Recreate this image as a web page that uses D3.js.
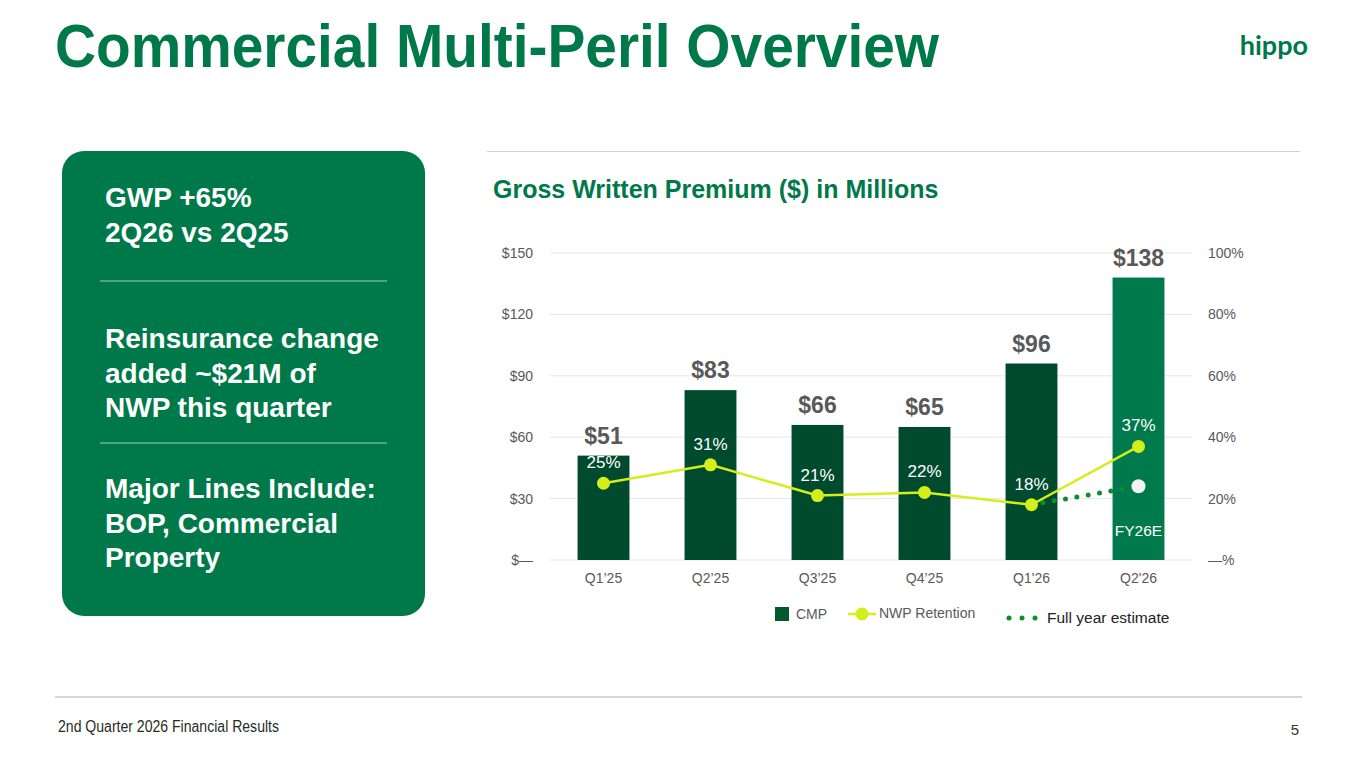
<!DOCTYPE html>
<html>
<head>
<meta charset="utf-8">
<script src="https://cdn.jsdelivr.net/npm/d3@7"></script>
<style>
  body { margin: 0; background: #fff; }
  svg { display: block; font-family: "Liberation Sans", Arial, sans-serif; }
</style>
</head>
<body>
<svg id="slide" width="1365" height="768"></svg>
<script>
const quarters = ["Q1\u201925", "Q2\u201925", "Q3\u201925", "Q4\u201925", "Q1'26", "Q2'26"];
const gwp = [51, 83, 66, 65, 96, 138];
const retention = [25, 31, 21, 22, 18, 37];
const estimateFrom = "Q1'26";
const estimateTo = "Q2'26";
const estimateValues = [18, 24];
const leftTicks = [0, 30, 60, 90, 120, 150];
const rightTicks = [0, 20, 40, 60, 80, 100];
const panelBlocks = [
  ["GWP +65%", "2Q26 vs 2Q25"],
  ["Reinsurance change", "added ~$21M of", "NWP this quarter"],
  ["Major Lines Include:", "BOP, Commercial", "Property"]
];

const green = "#00794a";
const darkBar = "#004a2e";
const lastBar = "#007a4c";
const lineColor = "#d4ee1b";
const dotColor = "#0b8e2e";
const grey = "#595959";

const svg = d3.select("#slide");

// header
svg.append("text")
  .attr("x", 55).attr("y", 67)
  .attr("font-size", 61).attr("font-weight", "bold")
  .attr("fill", green)
  .attr("textLength", 884).attr("lengthAdjust", "spacingAndGlyphs")
  .text("Commercial Multi-Peril Overview");

svg.append("text")
  .attr("x", 1308).attr("y", 55)
  .attr("text-anchor", "end")
  .attr("font-family", "Lato, sans-serif")
  .attr("font-size", 27).attr("font-weight", "bold")
  .attr("fill", green)
  .text("hippo");

// rules
svg.append("line").attr("x1", 487).attr("x2", 1300).attr("y1", 151.5).attr("y2", 151.5)
  .attr("stroke", "#d0d0d0").attr("stroke-width", 1);
svg.append("line").attr("x1", 55).attr("x2", 1302).attr("y1", 697).attr("y2", 697)
  .attr("stroke", "#d6d6d6").attr("stroke-width", 2);

// footer
svg.append("text")
  .attr("x", 58).attr("y", 732)
  .attr("font-size", 16).attr("fill", "#1f2d1f")
  .attr("textLength", 221).attr("lengthAdjust", "spacingAndGlyphs")
  .text("2nd Quarter 2026 Financial Results");
svg.append("text")
  .attr("x", 1299).attr("y", 735)
  .attr("text-anchor", "end")
  .attr("font-size", 15).attr("fill", "#333")
  .text("5");

// left panel
svg.append("rect")
  .attr("x", 62).attr("y", 151).attr("width", 363).attr("height", 465)
  .attr("rx", 22).attr("fill", green);

const blockTops = [207, 348, 498];
const panel = svg.append("g");
panelBlocks.forEach((lines, i) => {
  panel.selectAll(null)
    .data(lines)
    .enter()
    .append("text")
    .attr("x", 105)
    .attr("y", (_, j) => blockTops[i] + j * 34.5)
    .attr("font-size", 28).attr("font-weight", "bold")
    .attr("fill", "#fff")
    .text(d => d);
});
[281, 443].forEach(y => {
  panel.append("line").attr("x1", 100).attr("x2", 387).attr("y1", y).attr("y2", y)
    .attr("stroke", "#9fd0b6").attr("stroke-width", 1);
});

// chart
svg.append("text")
  .attr("x", 493).attr("y", 198)
  .attr("font-size", 25).attr("font-weight", "bold")
  .attr("fill", green)
  .text("Gross Written Premium ($) in Millions");

const x = d3.scaleBand()
  .domain(quarters)
  .range([550, 1192])
  .paddingInner(0.515)
  .paddingOuter(0.2575);

const yLeft = d3.scaleLinear().domain([0, 150]).range([560, 253]);
const yRight = d3.scaleLinear().domain([0, 100]).range([560, 253]);

svg.append("g")
  .selectAll("line")
  .data(leftTicks)
  .enter()
  .append("line")
  .attr("x1", 550).attr("x2", 1192)
  .attr("y1", d => yLeft(d)).attr("y2", d => yLeft(d))
  .attr("stroke", "#e6e6e6").attr("stroke-width", 1);

const leftAxis = svg.append("g")
  .attr("transform", "translate(550,0)")
  .call(d3.axisLeft(yLeft).tickValues(leftTicks).tickSize(0).tickPadding(17)
    .tickFormat(d => d === 0 ? "$\u2014" : "$" + d));

const rightAxis = svg.append("g")
  .attr("transform", "translate(1192,0)")
  .call(d3.axisRight(yRight).tickValues(rightTicks).tickSize(0).tickPadding(16)
    .tickFormat(d => d === 0 ? "\u2014%" : d + "%"));

const bottomAxis = svg.append("g")
  .attr("transform", "translate(0,560)")
  .call(d3.axisBottom(x).tickSize(0).tickPadding(13));

[leftAxis, rightAxis, bottomAxis].forEach(g => {
  g.select(".domain").remove();
  g.selectAll("text")
    .attr("font-family", "Liberation Sans, Arial, sans-serif")
    .attr("font-size", 14).attr("fill", grey);
});

const bars = quarters.map((q, i) => ({ q, v: gwp[i], last: i === quarters.length - 1 }));

svg.append("g")
  .selectAll("rect")
  .data(bars)
  .enter()
  .append("rect")
  .attr("x", d => x(d.q))
  .attr("y", d => yLeft(d.v))
  .attr("width", x.bandwidth())
  .attr("height", d => yLeft(0) - yLeft(d.v))
  .attr("fill", d => d.last ? lastBar : darkBar);

svg.append("g")
  .selectAll("text")
  .data(bars)
  .enter()
  .append("text")
  .attr("x", d => x(d.q) + x.bandwidth() / 2)
  .attr("y", d => yLeft(d.v) - 12)
  .attr("text-anchor", "middle")
  .attr("font-size", 23).attr("font-weight", "bold")
  .attr("fill", grey)
  .text(d => "$" + d.v);

// full year estimate
const cx = q => x(q) + x.bandwidth() / 2;
const est = [estimateFrom, estimateTo].map((q, i) => [cx(q), yRight(estimateValues[i])]);

svg.append("path")
  .attr("d", d3.line()(est))
  .attr("fill", "none")
  .attr("stroke", dotColor)
  .attr("stroke-width", 5)
  .attr("stroke-linecap", "round")
  .attr("stroke-dasharray", "0 11.5");

svg.append("circle")
  .attr("cx", est[1][0]).attr("cy", est[1][1]).attr("r", 7)
  .attr("fill", "#f2f2f2");

svg.append("text")
  .attr("x", cx(estimateTo)).attr("y", 536)
  .attr("text-anchor", "middle")
  .attr("font-size", 15.5).attr("fill", "#fff")
  .text("FY26E");

// retention line
const pts = quarters.map((q, i) => ({ q, v: retention[i] }));

svg.append("path")
  .datum(pts)
  .attr("d", d3.line().x(d => cx(d.q)).y(d => yRight(d.v)))
  .attr("fill", "none")
  .attr("stroke", lineColor)
  .attr("stroke-width", 2.5);

svg.append("g")
  .selectAll("circle")
  .data(pts)
  .enter()
  .append("circle")
  .attr("cx", d => cx(d.q))
  .attr("cy", d => yRight(d.v))
  .attr("r", 6.5)
  .attr("fill", lineColor);

svg.append("g")
  .selectAll("text")
  .data(pts)
  .enter()
  .append("text")
  .attr("x", d => cx(d.q))
  .attr("y", d => yRight(d.v) - 15)
  .attr("text-anchor", "middle")
  .attr("font-size", 17)
  .attr("fill", "#fff")
  .text(d => d.v + "%");

// legend
const legend = svg.append("g").attr("font-size", 14);
legend.append("rect")
  .attr("x", 775).attr("y", 607).attr("width", 14).attr("height", 14)
  .attr("fill", "#005a2b");
legend.append("text").attr("x", 796).attr("y", 619).attr("fill", grey).text("CMP");
legend.append("line")
  .attr("x1", 848).attr("x2", 876).attr("y1", 614).attr("y2", 614)
  .attr("stroke", lineColor).attr("stroke-width", 2.5);
legend.append("circle").attr("cx", 862).attr("cy", 614).attr("r", 6.5).attr("fill", lineColor);
legend.append("text").attr("x", 879).attr("y", 618).attr("fill", grey).text("NWP Retention");
legend.selectAll("circle.dot")
  .data([1009, 1022, 1035])
  .enter()
  .append("circle")
  .attr("class", "dot")
  .attr("cx", d => d).attr("cy", 618).attr("r", 2.5)
  .attr("fill", dotColor);
legend.append("text")
  .attr("x", 1047).attr("y", 623)
  .attr("font-size", 15.5).attr("fill", "#222")
  .text("Full year estimate");
</script>
</body>
</html>
